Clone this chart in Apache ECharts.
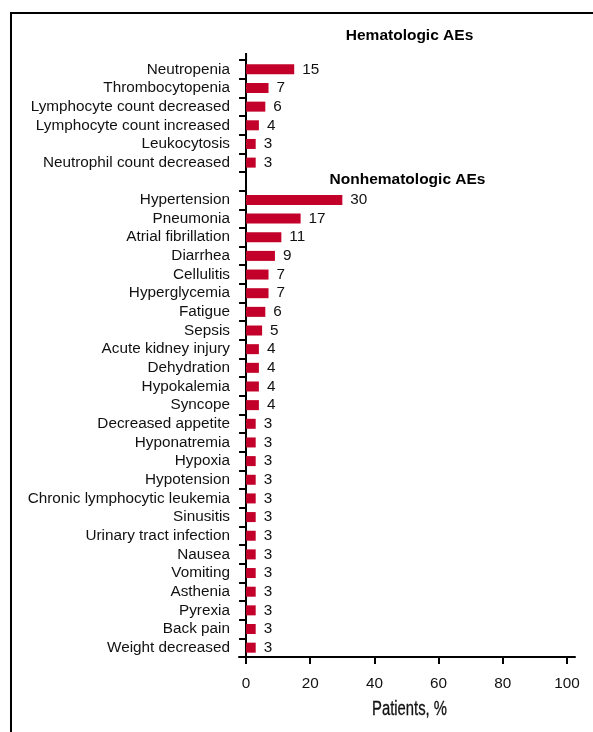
<!DOCTYPE html>
<html>
<head>
<meta charset="utf-8">
<script src="https://cdn.jsdelivr.net/npm/echarts@6/dist/echarts.min.js"></script>
<style>
html,body{margin:0;padding:0;background:#fff;}
#chart{width:593px;height:732px;}
</style>
</head>
<body>
<div id="chart"></div>
<script>
const hematologicCategories = ['Neutropenia','Thrombocytopenia','Lymphocyte count decreased','Lymphocyte count increased','Leukocytosis','Neutrophil count decreased'];
const hematologicValues = [15,7,6,4,3,3];
const nonhematologicCategories = ['Hypertension','Pneumonia','Atrial fibrillation','Diarrhea','Cellulitis','Hyperglycemia','Fatigue','Sepsis','Acute kidney injury','Dehydration','Hypokalemia','Syncope','Decreased appetite','Hyponatremia','Hypoxia','Hypotension','Chronic lymphocytic leukemia','Sinusitis','Urinary tract infection','Nausea','Vomiting','Asthenia','Pyrexia','Back pain','Weight decreased'];
const nonhematologicValues = [30,17,11,9,7,7,6,5,4,4,4,4,3,3,3,3,3,3,3,3,3,3,3,3,3];
const xTickValues = [0,20,40,60,80,100];
const sectionTitles = ['Hematologic AEs','Nonhematologic AEs'];
const axisTitle = 'Patients, %';

const categories = hematologicCategories.concat([''], nonhematologicCategories);
const values = hematologicValues.concat(['-'], nonhematologicValues);

const font = '"Liberation Sans", Arial, Helvetica, sans-serif';
const chart = echarts.init(document.getElementById('chart'), null, {renderer:'canvas'});
const option = {
  animation:false,
  backgroundColor:'#fff',
  grid:{left:239, top:60, width:336, height:597, containLabel:false},
  xAxis:{
    type:'value', min:-2.2, max:102.5,
    axisLine:{show:true, lineStyle:{color:'#000', width:2}},
    axisTick:{show:true, length:7, lineStyle:{color:'#000', width:2}, customValues:xTickValues},
    axisLabel:{color:'#111', fontSize:15.3, fontFamily:font, margin:19, customValues:xTickValues},
    splitLine:{show:false}
  },
  yAxis:{
    type:'category', inverse:true, data:categories,
    axisLine:{show:true, onZero:true, lineStyle:{color:'#000', width:2}},
    axisTick:{show:true, length:7, interval:0, lineStyle:{color:'#000', width:2}},
    axisLabel:{color:'#111', fontSize:15.3, fontFamily:font, margin:9, interval:0}
  },
  series:[{
    type:'bar', data:values, barWidth:10,
    itemStyle:{color:'#c2002a'},
    label:{show:true, position:'right', distance:8, color:'#111', fontSize:15.3, fontFamily:font}
  }]
};
chart.setOption(option);

// decorative frame, section headers, axis title and axis-line extension
const yBlank = chart.convertToPixel({yAxisIndex:0}, 6);
const xZero = chart.convertToPixel({xAxisIndex:0}, 0);
const xMid = chart.convertToPixel({xAxisIndex:0}, 50);
chart.setOption({
  graphic:[
    {type:'line', shape:{x1:10, y1:13, x2:593, y2:13}, style:{stroke:'#000', lineWidth:2}},
    {type:'line', shape:{x1:11, y1:12, x2:11, y2:732}, style:{stroke:'#000', lineWidth:2}},
    {type:'line', shape:{x1:xZero, y1:53, x2:xZero, y2:61}, style:{stroke:'#000', lineWidth:2}},
    {type:'text', x:xMid+3, y:36, style:{text:sectionTitles[0], font:'bold 15.5px '+font, fill:'#000', textAlign:'center', textVerticalAlign:'middle'}},
    {type:'text', x:xMid+1, y:yBlank-2, style:{text:sectionTitles[1], font:'bold 15.5px '+font, fill:'#000', textAlign:'center', textVerticalAlign:'middle'}},
    {type:'text', x:xMid+3, y:710, scaleX:0.76, style:{text:axisTitle, font:'19.5px '+font, fill:'#111', stroke:'#111', lineWidth:0.3, textAlign:'center', textVerticalAlign:'middle'}}
  ]
});
</script>
</body>
</html>
